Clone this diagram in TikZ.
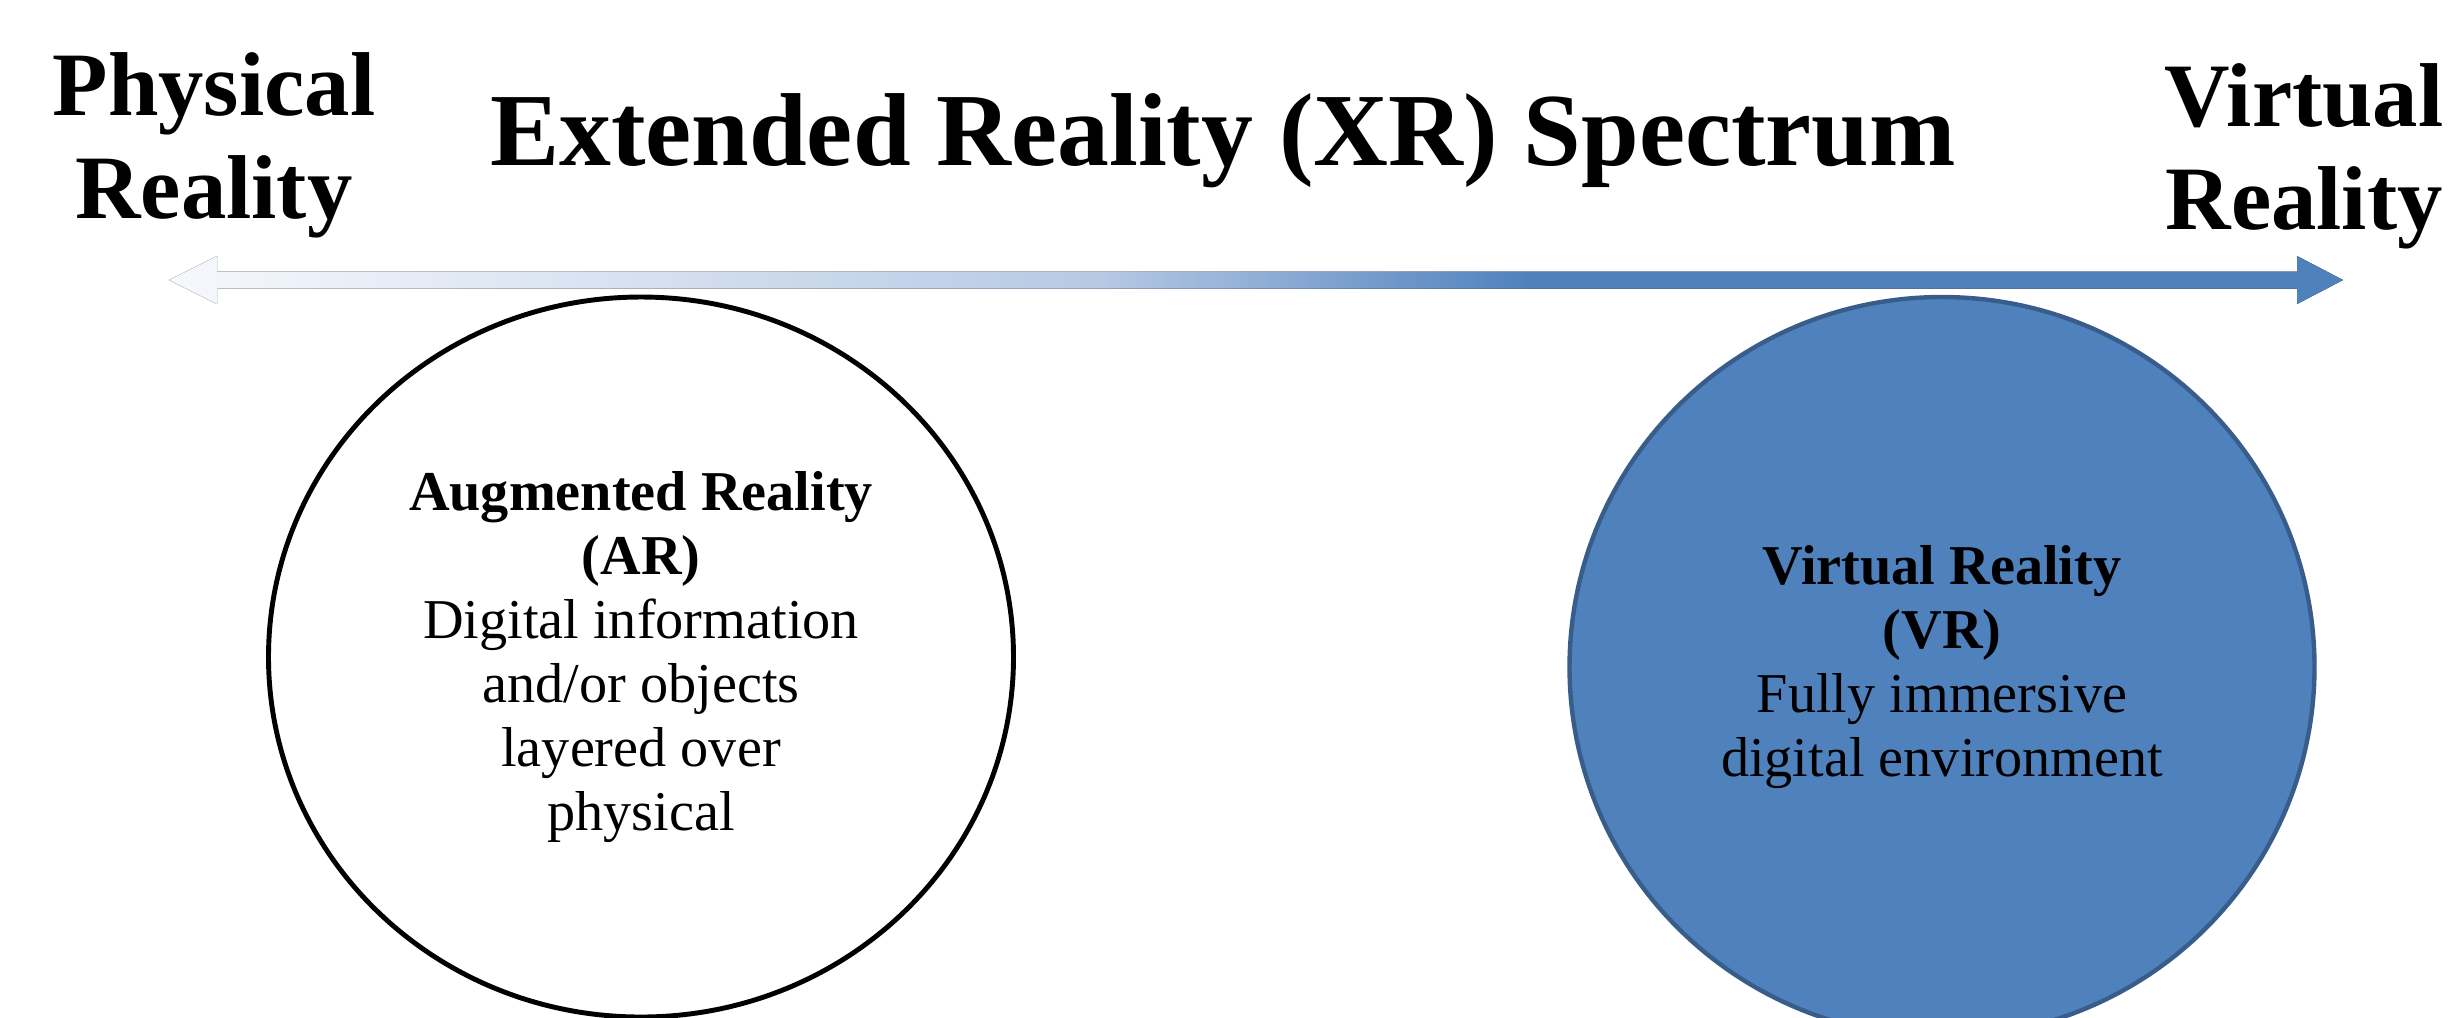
\documentclass[tikz,border=0pt]{standalone}
\usepackage{fontspec}
\setmainfont{Liberation Serif}
\usetikzlibrary{positioning, shapes.geometric, calc}
\definecolor{SpectrumBlue}{RGB}{79,129,189}
\definecolor{SpectrumPale}{RGB}{246,248,252}
\definecolor{SpectrumMid}{RGB}{182,201,228}
\definecolor{VRBorder}{RGB}{56,93,138}
\pgfdeclarehorizontalshading{xrspectrum}{100bp}{color(0bp)=(SpectrumPale); color(25bp)=(SpectrumPale); color(46.4bp)=(SpectrumMid); color(56.3bp)=(SpectrumBlue); color(100bp)=(SpectrumBlue)}

\begin{document}
\begin{tikzpicture}[x=0.1mm, y=0.1mm,
    zone/.style={ellipse, inner sep=0pt, minimum width=7.45cm, align=center, font=\fontsize{16}{18.2}\selectfont},
    endlabel/.style={align=center, anchor=base, font=\fontsize{25.8}{29.3}\selectfont\bfseries}]
  \useasboundingbox (0,0) rectangle (2458,-1017);

  \node[anchor=base, font=\fontsize{29.5}{35}\selectfont\bfseries] (title) at (1223,-165) {Extended Reality (XR) Spectrum};
  \node[endlabel] (phys) at (214,-218) {Physical\\Reality};
  \node[endlabel] (virt) at (2304,-229) {Virtual\\Reality};

  % spectrum arrow, pale at the physical end
  \coordinate (physend) at (169,-280);
  \coordinate (virtend) at (2343,-280);
  \fill[shading=xrspectrum] (physend) -- ++(48,24) -- ++(0,-15.5) -- ($(virtend)+(-46,8.5)$) -- ++(0,15.5)
    -- (virtend) -- ++(-46,-24) -- ++(0,15.5) -- ($(physend)+(48,-8.5)$) -- ++(0,-15.5) -- cycle;

  \node[zone, draw, line width=1.4pt, minimum height=7.2cm] (ar) at (641,-657)
    {\textbf{Augmented Reality}\\\textbf{(AR)}\\Digital information\\and/or objects\\layered over\\physical};
  \node[zone, draw=VRBorder, fill=SpectrumBlue, line width=1.25pt, minimum height=7.4cm] (vr) at (1942,-667)
    {\textbf{Virtual Reality}\\\textbf{(VR)}\\Fully immersive\\digital environment};
\end{tikzpicture}
\end{document}
